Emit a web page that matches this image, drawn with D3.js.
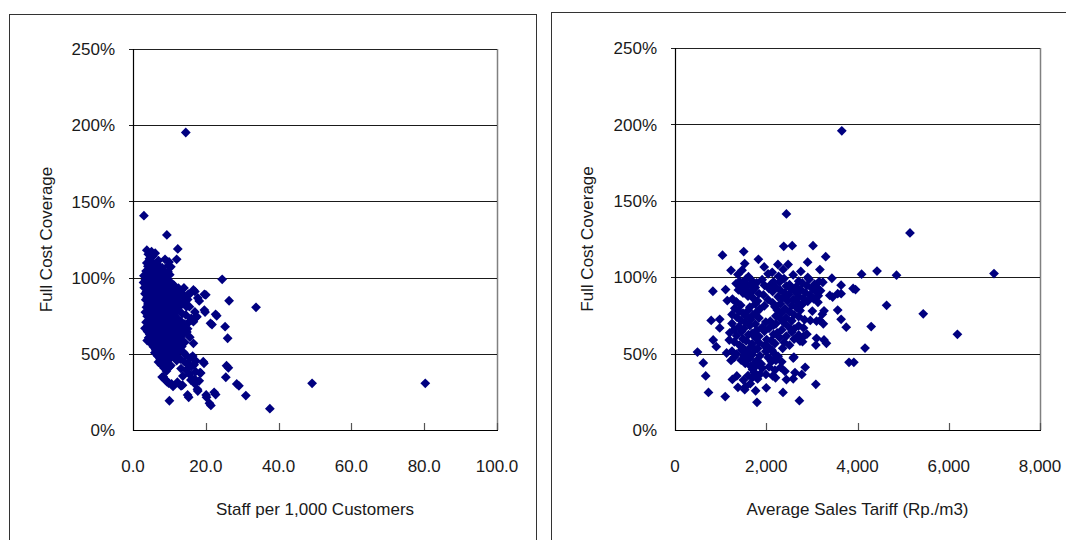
<!DOCTYPE html>
<html>
<head>
<meta charset="utf-8">
<script src="https://cdn.jsdelivr.net/npm/d3@7"></script>
<style>
  html, body { margin: 0; padding: 0; background: #fff; }
  svg { display: block; }
  text { font-family: "Liberation Sans", Arial, sans-serif; font-size: 17px; fill: #1a1a1a; }
</style>
</head>
<body>
<svg id="chart" width="1066" height="540"></svg>
<script>
// ---------- DATA ----------
const yTickValues = [0, 50, 100, 150, 200, 250];
const staffTickValues = [0, 20, 40, 60, 80, 100];
const tariffTickValues = [0, 2000, 4000, 6000, 8000];
const yTitle = "Full Cost Coverage";
const staffTitle = "Staff per 1,000 Customers";
const tariffTitle = "Average Sales Tariff (Rp./m3)";

// Staff per 1,000 customers vs full cost coverage (%)
const staffPoints = [
  [14.5,195.2],[3.0,140.6],[9.3,128],[3.8,118],[5.1,117],[12.3,118.8],[12.0,112],[8.8,112],[9.7,108],
  [24.5,98.9],[26.4,84.8],[19.6,89],[22.7,75.9],[21.3,70],[25.3,67.8],[26.0,60.2],[19.6,78.7],[16.6,56.9],
  [25.7,42.2],[25.5,34.6],[28.5,30.2],[22.3,24.7],[21.0,17.5],[20.1,23],[17.7,26.7],[15.0,23],[10.0,19.2],
  [19.3,44.8],[18.4,37.6],[17.0,33.3],[15.9,32.8],[13.2,28.9],[10.6,30.2],[8.3,35],[9.3,31.7],[17.5,74.4],
  [16.1,72.2],[14.7,80.9],[15.2,89.2],[16.6,91.9],[12.5,93],[13.4,89.7],
  [49.2,30.6],[80.3,30.6],[37.6,14.0],[33.8,80.5],[31.0,22.6],[29.1,29],[26.2,40.8],[23.0,74.9],[21.7,69.2],
  [20.0,88.7],[19.8,77.4],[19.5,43.8],[22.7,23.3],[20.2,21.5],[21.4,16.1],[17.8,25.6],[15.3,21.5],
  [4.2,115.4],[5.5,114.1],[6.1,116.0],
  [4.5,112.3],[7.0,111.2],
  [3.8,109.6],[5.0,110.8],[6.5,109.1],[9.9,110.3],
  [4.1,107.4],[5.3,106.2],[6.8,107.9],[8.0,106.5],[10.4,107.1],
  [3.6,104.3],[4.7,103.5],[5.9,104.8],[7.2,103.1],[8.5,104.6],[9.6,103.8],
  [3.0,101.2],[4.0,100.4],[5.1,101.7],[6.3,100.2],[7.5,101.5],[8.7,100.8],[10.1,101.9],
  [3.4,98.6],[4.6,99.4],[5.7,98.1],[6.9,99.7],[8.1,98.3],[9.3,99.2],
  [2.9,96.8],[4.1,97.5],[5.2,96.2],[6.4,97.9],[7.6,96.5],[8.8,97.3],[10.5,96.6],
  [3.5,95.3],[4.7,94.6],[5.9,95.8],[7.1,94.2],[8.3,95.5],[9.5,94.8],[11.2,95.1],
  [3.1,93.4],[4.3,92.5],[5.5,93.8],[6.7,92.2],[7.9,93.1],[9.1,92.7],[10.3,93.6],[12.0,92.4],[14.0,93.2],
  [3.7,90.8],[4.9,91.5],[6.1,90.3],[7.3,91.2],[8.5,90.6],[9.7,91.8],[11.0,90.5],[13.2,91.4],[17.0,90.9],
  [3.3,89.4],[4.5,88.6],[5.7,89.8],[6.9,88.3],[8.1,89.1],[9.3,88.8],[10.6,89.5],[12.5,88.4],[15.5,89.0],
  [3.9,86.7],[5.1,87.4],[6.3,86.3],[7.5,87.8],[8.7,86.5],[9.9,87.2],[11.8,86.9],[13.8,87.5],[17.8,86.6],
  [3.5,85.4],[4.7,84.6],[5.9,85.2],[7.1,84.3],[8.3,85.7],[9.5,84.8],[10.9,85.1],[12.7,84.4],[15.0,85.6],[18.2,84.7],
  [4.1,82.7],[5.3,83.5],[6.5,82.3],[7.7,83.2],[8.9,82.8],[10.2,83.6],[11.9,82.5],[14.0,83.3],
  [3.7,80.6],[4.9,81.4],[6.1,80.2],[7.3,81.7],[8.5,80.8],[9.7,81.2],[11.2,80.5],[13.0,81.5],[15.5,80.9],
  [4.3,78.6],[5.5,79.4],[6.7,78.2],[7.9,79.6],[9.1,78.8],[10.5,79.2],[12.3,78.5],
  [3.4,77.3],[4.7,76.5],[5.9,77.7],[7.1,76.2],[8.3,77.4],[9.6,76.8],[11.0,77.1],[13.5,76.4],[17.0,77.5],
  [3.9,74.7],[5.1,75.4],[6.3,74.3],[7.5,75.8],[8.7,74.5],[10.0,75.2],[11.6,74.8],[14.5,75.5],[17.5,74.2],
  [4.5,72.6],[5.7,73.4],[6.9,72.2],[8.1,73.5],[9.3,72.8],[10.7,73.2],[12.4,72.5],[16.0,73.3],
  [3.6,70.7],[4.9,71.4],[6.1,70.3],[7.3,71.6],[8.5,70.5],[9.8,71.2],[11.3,70.8],[13.1,71.5],[15.2,70.4],[16.6,71.1],
  [4.2,68.6],[5.4,69.4],[6.6,68.2],[7.8,69.7],[9.0,68.5],[10.4,69.2],[12.0,68.8],[14.2,69.5],
  [3.3,66.7],[4.7,67.4],[5.9,66.3],[7.1,67.6],[8.3,66.5],[9.6,67.2],[11.0,66.8],[12.8,67.5],[15.0,66.4],
  [4.0,64.6],[5.3,65.4],[6.5,64.2],[7.7,65.6],[8.9,64.8],[10.2,65.2],[11.7,64.5],[13.5,65.5],[14.8,64.3],
  [4.6,62.7],[5.8,63.4],[7.0,62.3],[8.2,63.6],[9.5,62.5],[10.9,63.2],[12.4,62.8],[14.0,63.5],
  [4.3,60.6],[5.5,61.4],[6.7,60.2],[7.9,61.6],[9.2,60.8],[10.5,61.2],[11.9,60.5],[13.3,61.5],[15.6,60.9],
  [3.9,58.7],[5.1,59.4],[6.3,58.3],[7.5,59.6],[8.8,58.5],[10.1,59.2],[11.5,58.8],[13.0,59.5],
  [5.0,56.6],[6.2,57.4],[7.4,56.3],[8.6,57.6],[9.9,56.8],[11.2,57.2],[12.6,56.5],[14.2,57.5],
  [5.6,54.7],[6.8,55.4],[8.0,54.3],[9.2,55.6],[10.5,54.5],[11.9,55.2],[13.4,54.8],
  [6.2,52.6],[7.4,53.4],[8.6,52.3],[9.9,53.6],[11.2,52.8],[12.7,53.2],
  [6.0,50.7],[7.2,51.4],[8.4,50.3],[9.6,51.6],[10.9,50.5],[12.3,51.2],[13.9,50.8],
  [6.8,48.6],[8.0,49.4],[9.2,48.3],[10.5,49.6],[11.8,48.8],[14.5,49.2],[16.4,48.5],
  [7.4,46.7],[8.6,47.4],[9.9,46.3],[11.4,47.6],[13.0,46.5],[15.8,47.2],
  [7.0,44.6],[8.2,45.4],[9.5,44.3],[12.0,45.6],[14.1,44.8],[17.3,45.2],
  [7.8,42.7],[9.0,43.4],[10.4,42.3],[15.0,43.6],[16.8,42.8],
  [8.6,40.6],[10.0,41.4],[13.2,40.3],[16.0,41.6],
  [9.2,38.7],[14.6,39.4],[17.2,38.3],
  [15.5,36.6],[18.6,37.4],
  [8.0,34.7],[13.7,35.4],
  [9.1,32.6],[16.4,33.4],[18.2,32.3],
  [9.8,30.7],[12.2,31.4],[17.0,30.3],
  [11.0,28.6],[13.6,29.4]
];

// Average sales tariff (Rp./m3) vs full cost coverage (%)
const tariffPoints = [
  [3656,195.8],[2442,141.4],[5150,129],[3303,113.4],[3025,120.6],[2569,120.6],[2383,120.2],[1041,114.4],
  [1506,116.8],[1828,111.7],[1528,108.9],[1955,106.7],[2907,109.8],[1228,104.5],[2479,108.3],[2256,108.3],
  [2758,103.8],[3176,105],[3439,99.3],[831,90.8],[1109,91.9],[1146,84.7],[1341,83.6],[793,71.7],[980,72.4],
  [980,66.8],[837,58.9],[905,54.5],[493,51],[620,43.9],[673,35.4],[734,24.6],[1101,21.9],[1190,58.9],
  [1131,50.4],[1228,45.5],[1258,33.1],[1355,35.4],[1379,27.9],[1528,26.4],[1767,25.7],[1797,18.1],
  [1692,34.2],[1767,35.7],[2367,24.6],[2727,19.2],[3087,29.9],[2442,33],[2591,33.5],[2630,37.6],[2779,36.4],
  [2853,41],[2591,47.1],[2315,41],[2142,35.4],[2203,34.2],[1993,36.4],[2113,44.8],[2232,47.7],[2126,52.2],
  [3087,55.6],[3266,58.9],[3319,56.7],[3102,60],[2816,61.2],[2795,57.8],[3251,69.5],[3176,71.7],[3266,78],
  [3229,75.8],[3133,83.6],[2966,71.7],[3102,71.3],[2817,66.8],[2891,62.7],[2606,47.7],[3566,89.2],[3641,94.8],
  [3393,88.1],[3455,87],[3566,78.5],[3641,72.4],[3753,67.3],[3904,92.6],[3957,91.9],[3641,89.2],
  [6992,102.4],[6190,62.6],[5441,76],[4638,81.6],[4855,101.3],[4428,104],[4090,102],[4300,67.7],[4165,53.6],
  [3814,44.3],[3920,44.3],
  [1470,104.6],[2130,103.2],[2370,105.1],
  [1380,101.8],[1610,100.3],[2040,102.2],[2270,100.6],[2590,101.5],[2910,99.8],
  [1420,97.2],[1560,98.9],[1690,97.6],[1910,98.4],[2160,97.0],[2390,99.1],[2710,97.4],[2940,98.6],[3160,97.1],
  [1340,95.8],[1500,96.6],[1660,95.2],[1790,96.3],[2110,95.5],[2290,96.8],[2510,95.1],[2790,96.2],[3060,95.4],[3240,96.7],
  [1450,93.6],[1590,94.4],[1760,93.2],[1960,94.7],[2210,93.5],[2440,94.2],[2660,93.8],[2890,94.5],[3110,93.3],
  [1390,91.7],[1540,92.5],[1710,91.3],[2060,92.6],[2310,91.5],[2540,92.2],[2760,91.8],[3010,92.4],[3190,91.2],
  [1490,89.6],[1660,90.4],[1840,89.2],[2140,90.6],[2410,89.5],[2640,90.2],[2860,89.8],[3090,90.5],
  [1600,87.6],[1940,88.4],[2260,87.2],[2490,88.6],[2710,87.5],[2960,88.2],[3140,87.8],
  [1260,85.7],[1710,86.4],[2040,85.3],[2360,86.6],[2590,85.5],[2810,86.2],[3040,85.8],
  [1350,83.6],[1810,84.4],[2140,83.2],[2460,84.6],[2690,83.5],[2910,84.2],
  [1440,81.7],[1760,82.4],[1960,81.3],[2310,82.6],[2560,81.5],[2790,82.2],
  [1310,79.6],[1640,80.4],[1860,79.2],[2190,80.6],[2410,79.5],[2660,80.2],
  [1400,77.7],[1610,78.4],[1790,77.3],[2240,78.6],[2510,77.5],[2740,78.2],[3010,77.8],
  [1250,75.6],[1490,76.4],[1710,75.2],[2340,76.6],[2610,75.5],
  [1360,73.7],[1560,74.4],[1840,73.3],[2210,74.6],[2440,73.5],[2710,74.2],
  [1450,71.6],[1660,72.4],[2090,71.2],[2310,72.6],[2560,71.5],[2840,72.2],
  [1250,69.7],[1540,70.4],[1760,69.3],[1990,70.6],[2210,69.5],[2390,70.2],
  [1400,67.6],[1640,68.4],[1910,67.2],[2160,68.6],[2490,67.5],[2710,68.2],
  [1300,65.7],[1510,66.4],[1790,65.3],[2060,66.6],[2340,65.5],[2610,66.2],
  [1200,63.6],[1460,64.4],[1690,63.2],[1960,64.6],[2240,63.5],[2560,64.2],
  [1350,61.7],[1610,62.4],[1840,61.3],[2160,62.6],[2440,61.5],[2710,62.2],
  [1490,59.6],[1760,60.4],[2010,59.2],[2290,60.6],[2610,59.5],
  [1300,57.7],[1560,58.4],[1840,57.3],[2110,58.6],[2390,57.5],[2740,58.2],
  [1410,55.6],[1690,56.4],[1960,55.2],[2190,56.6],[2510,55.5],
  [1490,53.7],[1660,54.4],[1810,53.3],[2040,54.6],[2360,53.5],
  [1250,51.6],[1460,52.4],[1590,51.2],[1760,52.6],[1990,51.5],
  [1350,49.7],[1560,50.4],[1690,49.3],[2160,50.6],
  [1300,47.6],[1510,48.4],[1640,47.2],[1860,48.6],[2040,47.5],[2260,48.2],
  [1450,45.7],[1610,46.4],[1790,45.3],[2090,46.6],[2210,45.5],
  [1540,43.6],[1760,44.4],[1890,43.2],[2340,44.6],
  [1660,41.7],[1790,42.4],[2060,41.3],
  [1700,39.6],[1910,40.4],[2190,39.2],
  [1740,37.7],[2410,38.4],
  [1600,35.6],[1860,36.4],
  [1500,32.7],[1810,33.4],
  [1650,30.3],
  [1550,28.4],[2000,27.6]
];

// ---------- DRAW ----------
const svg = d3.select("#chart");
const navy = "#000080";

// outer panel borders
svg.append("rect").attr("x", 9.5).attr("y", 14.5).attr("width", 527).attr("height", 600)
  .attr("fill", "none").attr("stroke", "#333").attr("stroke-width", 1);
svg.append("rect").attr("x", 551.5).attr("y", 12.5).attr("width", 600).attr("height", 600)
  .attr("fill", "none").attr("stroke", "#333").attr("stroke-width", 1);

const pctFmt = d => d + "%";

function panel(cfg) {
  const x = d3.scaleLinear().domain(cfg.xDomain).range([cfg.left, cfg.right]);
  const y = d3.scaleLinear().domain([0, 250]).range([cfg.bottom, cfg.top]);
  const g = svg.append("g");

  // plot area border (right side gray)
  g.append("line").attr("x1", cfg.right + 0.5).attr("x2", cfg.right + 0.5)
    .attr("y1", y(250)).attr("y2", y(0)).attr("stroke", "#808080").attr("stroke-width", 1.5);

  // gridlines with small outside ticks
  g.selectAll("line.grid").data(yTickValues.filter(v => v > 0)).enter().append("line")
    .attr("x1", cfg.left - 4).attr("x2", cfg.right)
    .attr("y1", d => Math.round(y(d)) + 0.5).attr("y2", d => Math.round(y(d)) + 0.5)
    .attr("stroke", d => d === 250 ? "#222" : "#1a1a1a").attr("stroke-width", 1);

  // y axis line
  g.append("line").attr("x1", cfg.left + 0.5).attr("x2", cfg.left + 0.5)
    .attr("y1", y(250)).attr("y2", y(0) + 1).attr("stroke", "#000").attr("stroke-width", 1.2);

  // x axis with inward ticks
  g.selectAll("line.xt").data(cfg.xTicks.slice(1)).enter().append("line")
    .attr("x1", d => Math.round(x(d)) + 0.5).attr("x2", d => Math.round(x(d)) + 0.5)
    .attr("y1", y(0) - 7).attr("y2", y(0))
    .attr("stroke", "#555").attr("stroke-width", 1.2);
  g.append("line").attr("x1", cfg.left).attr("x2", cfg.right + 1)
    .attr("y1", Math.round(y(0)) + 0.5).attr("y2", Math.round(y(0)) + 0.5)
    .attr("stroke", "#000").attr("stroke-width", 1.2);

  // y tick labels
  g.selectAll("text.yl").data(yTickValues).enter().append("text")
    .attr("x", cfg.yLabelX).attr("y", d => y(d)).attr("dy", "0.36em")
    .attr("text-anchor", "end").text(pctFmt);

  // x tick labels
  g.selectAll("text.xl").data(cfg.xTicks).enter().append("text")
    .attr("x", d => x(d)).attr("y", 466).attr("dy", "0.36em")
    .attr("text-anchor", "middle").text(cfg.xFmt);

  // axis titles
  g.append("text").attr("x", (cfg.left + cfg.right) / 2).attr("y", 509).attr("dy", "0.36em")
    .attr("text-anchor", "middle").text(cfg.xTitle);
  g.append("text").attr("transform", `translate(${cfg.yTitleX},${(y(0) + y(250)) / 2}) rotate(-90)`)
    .attr("dy", "0.36em").attr("text-anchor", "middle").text(yTitle);

  // points
  const diamond = d3.symbol().type(d3.symbolSquare).size(48);
  g.selectAll("path.pt").data(cfg.data).enter().append("path")
    .attr("d", diamond)
    .attr("transform", d => `translate(${x(d[0])},${y(d[1])}) rotate(45)`)
    .attr("fill", navy);
}

panel({
  data: staffPoints, xDomain: [0, 100], xTicks: staffTickValues,
  xFmt: d3.format(".1f"),
  left: 133, right: 497, top: 49, bottom: 430,
  yLabelX: 115, yTitleX: 46, xTitle: staffTitle
});

panel({
  data: tariffPoints, xDomain: [0, 8000], xTicks: tariffTickValues,
  xFmt: d3.format(","),
  left: 675, right: 1040, top: 48, bottom: 430,
  yLabelX: 657, yTitleX: 587, xTitle: tariffTitle
});
</script>
</body>
</html>
